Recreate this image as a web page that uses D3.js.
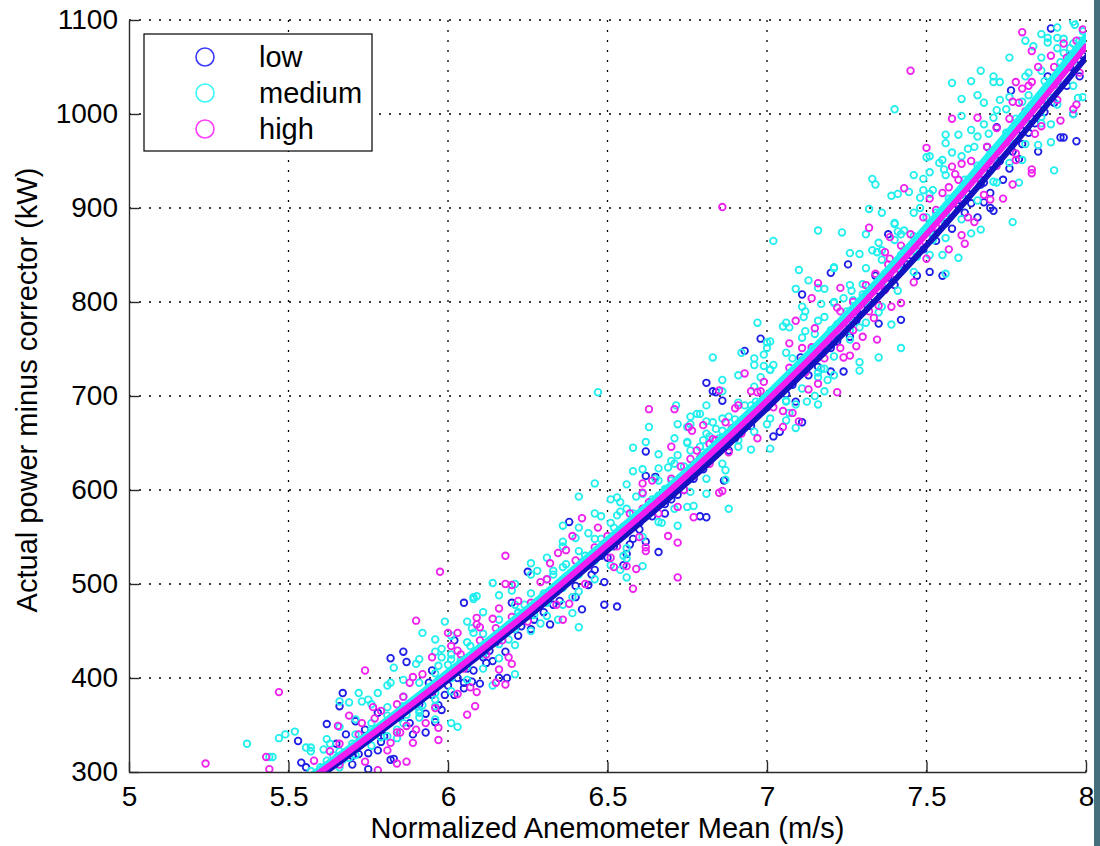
<!DOCTYPE html>
<html>
<head>
<meta charset="utf-8">
<script src="https://cdn.jsdelivr.net/npm/d3@7/dist/d3.min.js"></script>
<style>
	body { margin: 0; background: #fff; }
	text { font-family: "Liberation Sans", Arial, sans-serif; fill: #000; }
</style>
</head>
<body>
<div id="chart-area"></div>
<script>
var seriesNames = ["low", "medium", "high"];
var xTicks = [5, 5.5, 6, 6.5, 7, 7.5, 8];
var yTicks = [300, 400, 500, 600, 700, 800, 900, 1000, 1100];

// fitted curves, read at these wind speeds
var fitSpeeds = [5.55, 5.6, 5.8, 6.0, 6.25, 6.5, 6.75, 7.0, 7.25, 7.5, 7.75, 8.0];
var lowFit = [284, 296, 346, 398, 465, 536, 608, 687, 770, 860, 958, 1060];
var mediumFit = [291, 303, 353, 406, 474, 547, 621, 701, 787, 880, 978, 1082];
var highFit = [288, 300, 350, 402, 470, 542, 616, 695, 780, 872, 969, 1072];

// scatter points [speed, power]
var lowPoints = [[5.53,333],[5.54,310],[5.555,305],[5.62,351],[5.66,370],[5.67,384],[5.68,340],[5.70,317],[5.71,354],[5.72,319],[5.75,320],[5.75,303],[5.78,323],[5.78,363],[5.82,313],[5.83,314],[5.82,421],[5.86,428],[5.87,417],[5.93,362],[5.93,342],[5.95,408],[5.95,382],[5.96,353],[5.97,371],[5.99,382],[6.02,382],[6.02,440],[6.05,480],[6.05,395],[6.05,389],[6.07,423],[6.075,396],[6.10,394],[6.11,422],[6.13,429],[6.16,400],[6.185,400],[6.19,456],[6.2,480],[6.25,513],[6.32,457],[6.38,566],[6.42,523],[6.42,473],[6.44,499],[6.49,502],[6.49,478],[6.53,476],[6.55,520],[6.56,532],[6.62,545],[6.62,641],[6.62,615],[6.65,614],[6.66,534],[6.79,572],[6.81,571],[6.81,714],[6.83,705],[6.84,704],[6.86,695],[6.865,610],[6.93,748],[6.98,761],[7.02,657],[7.04,662],[7.09,694],[7.105,741],[7.11,672],[7.11,808],[7.16,731],[7.2,831],[7.20,751],[7.20,726],[7.24,726],[7.254,840],[7.26,763],[7.34,828],[7.35,777],[7.38,872],[7.42,781],[7.47,828],[7.51,832],[7.55,828],[7.56,884],[7.68,927],[7.70,916],[7.68,906],[7.70,900],[7.71,897],[7.69,965],[7.72,986],[7.765,1025],[7.89,1091],[7.92,975],[7.93,975],[7.97,971],
	[5.64,310],[5.73,333],[5.8,338],[5.88,352],[5.91,372],[6.0,392],[6.08,408],[6.14,418],[6.22,445],[6.26,452],[6.3,470],[6.35,482],[6.4,498],[6.46,515],[6.5,528],[6.58,548],[6.6,558],[6.68,575],[6.7,590],[6.74,600],[6.77,612],[6.88,642],[6.9,655],[6.95,668],[6.97,680],[7.0,688],[7.06,702],[7.08,712],[7.13,722],[7.17,745],[7.22,758],[7.28,780],[7.3,792],[7.32,800],[7.4,818],[7.44,840],[7.49,856],[7.53,865],[7.58,878],[7.62,895],[7.64,905],[7.66,890],[7.74,930],[7.76,942],[7.79,952],[7.8,968],[7.82,980],[7.84,990],[7.85,960],[7.87,1002],[7.9,1012],[7.91,1035],[7.94,1030],[7.95,1050],[7.98,1040],[7.99,1062],[7.96,1000],
	[5.6,296],[5.65,330],[5.7,308],[5.74,345],[5.79,332],[5.85,358],[5.89,340],[5.94,395],[5.98,366],[6.03,400],[6.06,410],[6.12,416],[6.15,438],[6.18,428],[6.23,455],[6.27,462],[6.33,478],[6.36,500],[6.4,486],[6.45,510],[6.48,530],[6.52,540],[6.57,542],[6.6,565],[6.64,572],[6.68,585],[6.72,595],[6.76,618],[6.8,622],[6.83,640],[6.87,655],[6.91,660],[6.95,680],[6.99,690],[7.02,700],[7.05,710],[7.09,725],[7.13,738],[7.17,752],[7.21,760],[7.24,778],[7.28,790],[7.31,800],[7.35,812],[7.38,826],[7.42,840],[7.45,850],[7.48,868],[7.52,872],[7.56,895],[7.6,902],[7.63,915],[7.67,925],[7.7,940],[7.73,950],[7.77,960],[7.8,982],[7.83,995],[7.86,1015],[7.88,1040],[7.92,1045],[7.95,1062],[7.98,1058]];

var mediumPoints = [[5.37,330],[5.44,316],[5.45,316],[5.47,336],[5.49,340],[5.52,343],[5.555,326],[5.57,326],[5.61,324],[5.63,330],[5.65,315],[5.67,313],[5.69,315],[5.72,332],[5.755,336],[5.79,337],[5.84,336],[5.84,345],[5.87,361],[5.91,363],[5.92,371],[5.96,377],[5.96,356],[6.01,352],[6.03,348],[5.66,375],[5.69,374],[5.73,375],[5.72,384],[5.75,377],[5.78,384],[5.81,369],[5.82,395],[5.83,411],[5.90,415],[5.97,413],[6.0,414],[6.01,420],[6.04,419],[5.98,422],[5.98,431],[6.07,434],[6.08,448],[5.96,441],[5.92,448],[5.99,460],[6.075,453],[6.08,484],[6.09,487],[6.14,501],[6.14,392],[6.21,404],[6.19,441],[6.22,469],[6.08,486],[6.2,493],[6.22,470],[6.27,467],[6.29,458],[6.345,462],[6.31,481],[6.35,498],[6.39,486],[6.39,469],[6.41,454],[6.26,522],[6.28,514],[6.33,514],[6.37,521],[6.33,510],[6.36,540],[6.36,562],[6.40,549],[6.41,593],[6.46,607],[6.47,704],[6.44,554],[6.48,548],[6.48,572],[6.53,592],[6.54,587],[6.54,577],[6.53,573],[6.58,575],[6.59,593],[6.55,530],[6.54,515],[6.56,527],[6.56,507],[6.61,519],[6.58,645],[6.58,620],[6.62,651],[6.63,667],[6.65,586],[6.66,594],[6.68,601],[6.65,612],[6.66,623],[6.67,565],[6.69,624],[6.70,631],[6.72,637],[6.72,670],[6.715,690],[6.72,562],[6.75,582],[6.77,583],[6.75,650],[6.76,678],[6.78,681],[6.79,646],[6.81,673],[6.81,596],[6.82,657],[6.84,665],[6.87,611],[6.87,621],[6.88,580],[6.75,667],[6.75,651],[6.79,681],[6.80,653],[6.83,672],[6.86,663],[6.83,741],[6.86,717],[6.88,678],[6.91,653],[6.92,746],[6.93,690],[6.94,671],[6.95,643],[6.965,694],[6.96,733],[6.97,778],[6.98,720],[6.99,732],[6.99,744],[7.0,751],[7.0,757],[7.0,670],[7.01,728],[7.01,644],[7.02,733],[7.02,865],[7.05,774],[7.06,695],[7.06,674],[7.07,773],[7.07,682],[7.09,691],[7.09,666],[7.09,814],[7.10,834],[7.115,784],[7.12,790],[7.12,769],[7.125,694],[7.13,823],[7.15,766],[7.15,700],[7.16,876],[7.16,720],[7.16,691],[7.17,798],[7.17,729],[7.18,814],[7.18,784],[7.18,729],[7.18,705],[7.19,717],[7.21,837],[7.21,799],[7.21,722],[7.22,776],[7.235,874],[7.24,804],[7.26,770],[7.265,812],[7.27,802],[7.29,851],[7.29,773],[7.29,736],[7.29,727],[7.30,819],[7.32,899],[7.33,931],[7.33,855],[7.34,925],[7.345,853],[7.35,863],[7.35,789],[7.35,741],[7.36,845],[7.39,913],[7.39,776],[7.40,883],[7.40,1005],[7.40,884],[7.40,866],[7.42,872],[7.42,751],[7.43,876],[7.43,855],[7.445,917],[7.47,848],[7.48,911],[7.48,900],[7.49,931],[7.49,919],[7.50,954],[7.50,890],[7.51,938],[7.52,919],[7.52,866],[7.54,948],[7.55,951],[7.555,941],[7.55,850],[7.56,969],[7.56,885],[7.56,830],[7.58,1033],[7.58,959],[7.60,978],[7.60,847],[7.61,1016],[7.63,963],[7.64,1035],[7.64,983],[7.64,873],[7.65,965],[7.67,1046],[7.67,877],[7.68,1012],[7.68,989],[7.695,979],[7.71,1034],[7.72,1004],[7.72,927],[7.73,1034],[7.73,1015],[7.75,1005],[7.77,885],[7.79,927],[7.80,1013],[7.80,951],[7.82,1044],[7.835,1072],[7.85,967],[7.86,1046],[7.865,1011],[7.86,997],[7.88,1081],[7.88,1076],[7.89,1017],[7.89,989],[7.89,970],[7.90,940],[7.91,1081],[7.93,1080],[7.93,1065],[7.96,1000],[7.965,1095],[7.975,1017],[7.99,1088],[7.99,1018],
	[5.6,305],[5.64,318],[5.7,330],[5.76,345],[5.86,370],[5.94,390],[6.02,405],[6.06,418],[6.12,432],[6.16,445],[6.2,455],[6.24,478],[6.3,490],[6.38,505],[6.43,530],[6.5,545],[6.52,560],[6.6,575],[6.64,590],[6.7,610],[6.74,625],[6.8,640],[6.85,655],[6.9,675],[6.95,690],[7.03,710],[7.08,740],[7.14,750],[7.2,770],[7.25,790],[7.3,808],[7.37,830],[7.42,850],[7.46,870],[7.53,895],[7.57,910],[7.62,930],[7.66,945],[7.7,960],[7.75,980],[7.78,995],[7.82,1020],[7.87,1035],[7.92,1055],[7.95,1070],[7.98,1078],
	[5.57,322],[5.57,301],[5.62,335],[5.62,312],[5.62,292],[5.66,348],[5.66,322],[5.66,305],[5.71,356],[5.71,340],[5.71,318],[5.76,372],[5.76,352],[5.76,328],[5.81,392],[5.81,360],[5.81,338],[5.86,398],[5.86,380],[5.86,352],[5.91,420],[5.91,395],[5.91,366],[5.91,358],[5.96,428],[5.96,405],[5.96,384],[5.96,370],[6.01,445],[6.01,425],[6.01,400],[6.01,386],[6.06,460],[6.06,438],[6.06,412],[6.06,398],[6.11,470],[6.11,447],[6.11,425],[6.11,410],[6.16,488],[6.16,462],[6.16,436],[6.16,421],[6.21,500],[6.21,478],[6.21,452],[6.21,435],[6.26,510],[6.26,490],[6.26,468],[6.26,450],[6.31,528],[6.31,505],[6.31,480],[6.31,466],[6.36,545],[6.36,518],[6.36,496],[6.36,478],[6.41,560],[6.41,535],[6.41,510],[6.41,492],[6.46,575],[6.46,548],[6.46,525],[6.46,505],[6.51,590],[6.51,565],[6.51,540],[6.51,520],[6.56,606],[6.56,580],[6.56,556],[6.56,538],[6.61,622],[6.61,596],[6.61,570],[6.61,550],[6.66,638],[6.66,610],[6.66,585],[6.66,566],[6.71,655],[6.71,628],[6.71,600],[6.71,580],[6.76,670],[6.76,642],[6.76,615],[6.76,598],[6.81,690],[6.81,660],[6.81,632],[6.81,612],[6.86,705],[6.86,676],[6.86,648],[6.86,628],[6.91,722],[6.91,693],[6.91,662],[6.91,646],[6.96,740],[6.96,710],[6.96,680],[6.96,662],[7.01,758],[7.01,728],[7.01,698],[7.01,676],[7.06,778],[7.06,746],[7.06,712],[7.06,694],[7.11,795],[7.11,762],[7.11,730],[7.11,708],[7.16,815],[7.16,780],[7.16,748],[7.16,725],[7.21,836],[7.21,800],[7.21,764],[7.21,742],[7.26,852],[7.26,818],[7.26,782],[7.26,760],[7.31,872],[7.31,836],[7.31,800],[7.31,778],[7.36,895],[7.36,855],[7.36,818],[7.36,795],[7.41,915],[7.41,875],[7.41,836],[7.41,812],[7.46,935],[7.46,895],[7.46,855],[7.46,832],[7.51,955],[7.51,915],[7.51,874],[7.51,850],[7.56,978],[7.56,935],[7.56,895],[7.56,868],[7.61,998],[7.61,955],[7.61,914],[7.61,888],[7.66,1020],[7.66,976],[7.66,932],[7.66,908],[7.71,1040],[7.71,996],[7.71,952],[7.71,928],[7.76,1060],[7.76,1018],[7.76,972],[7.76,948],[7.81,1078],[7.81,1040],[7.81,994],[7.81,968],[7.86,1085],[7.86,1060],[7.86,1015],[7.86,990],[7.91,1092],[7.91,1070],[7.91,1036],[7.91,1010],[7.96,1098],[7.96,1075],[7.96,1056],[7.96,1030]];

var highPoints = [[5.24,309],[5.43,316],[5.44,303],[5.47,385],[5.63,322],[5.655,349],[5.66,308],[5.69,360],[5.73,352],[5.74,311],[5.74,408],[5.765,369],[5.77,357],[5.78,302],[5.81,323],[5.82,331],[5.84,342],[5.85,342],[5.84,372],[5.84,309],[5.87,349],[5.87,311],[5.88,395],[5.89,401],[5.89,331],[5.90,345],[5.90,461],[5.92,404],[5.93,352],[5.95,422],[5.96,368],[5.97,397],[5.97,347],[5.97,334],[5.975,513],[6.0,448],[6.01,434],[6.03,448],[6.03,429],[6.03,383],[6.06,361],[6.07,390],[6.085,370],[6.09,464],[6.09,457],[6.09,385],[6.10,454],[6.10,432],[6.14,463],[6.15,453],[6.15,395],[6.16,474],[6.16,409],[6.18,393],[6.18,500],[6.18,530],[6.19,422],[6.2,465],[6.2,415],[6.2,499],[6.29,502],[6.32,522],[6.32,490],[6.345,533],[6.36,462],[6.37,536],[6.38,479],[6.39,551],[6.42,570],[6.46,539],[6.49,543],[6.5,551],[6.52,518],[6.55,561],[6.56,519],[6.58,495],[6.59,516],[6.61,580],[6.61,597],[6.61,607],[6.62,539],[6.62,535],[6.63,686],[6.63,587],[6.645,587],[6.69,551],[6.70,612],[6.70,646],[6.71,686],[6.72,582],[6.72,544],[6.72,507],[6.755,667],[6.765,663],[6.76,633],[6.77,571],[6.78,642],[6.79,634],[6.80,669],[6.82,649],[6.83,654],[6.84,653],[6.85,706],[6.85,597],[6.86,599],[6.86,901],[6.89,666],[6.90,687],[6.93,724],[6.95,705],[6.97,704],[6.98,705],[6.97,655],[7.05,667],[7.05,684],[7.07,756],[7.08,682],[7.09,780],[7.10,673],[7.11,751],[7.13,707],[7.14,752],[7.14,804],[7.16,820],[7.16,713],[7.22,704],[7.22,794],[7.23,815],[7.23,751],[7.24,741],[7.26,743],[7.28,753],[7.30,763],[7.32,879],[7.33,814],[7.335,783],[7.345,760],[7.35,796],[7.37,853],[7.37,813],[7.385,869],[7.385,846],[7.39,795],[7.42,799],[7.43,921],[7.45,1046],[7.46,821],[7.50,964],[7.50,846],[7.51,910],[7.55,916],[7.57,856],[7.58,995],[7.58,944],[7.59,936],[7.61,947],[7.61,871],[7.62,862],[7.63,890],[7.65,885],[7.66,996],[7.68,914],[7.70,909],[7.74,910],[7.77,1013],[7.77,925],[7.78,1034],[7.78,958],[7.78,951],[7.80,1087],[7.80,1027],[7.81,1003],[7.83,1067],[7.83,1034],[7.83,941],[7.83,937],[7.84,979],[7.86,987],[7.90,1050],[7.90,1031],[7.91,1040],[7.91,1015],[7.92,993],[7.96,1005],[7.97,1010],[7.98,1044],
	[5.62,305],[5.7,325],[5.8,350],[5.95,385],[6.05,410],[6.12,425],[6.25,460],[6.28,475],[6.35,495],[6.44,520],[6.53,540],[6.66,575],[6.74,600],[6.88,640],[6.92,660],[7.0,690],[7.03,700],[7.12,725],[7.18,740],[7.27,770],[7.32,790],[7.4,830],[7.48,860],[7.53,880],[7.6,905],[7.67,930],[7.72,945],[7.75,970],[7.86,1010],[7.88,1025],[7.94,1060],[7.99,1070],
	[5.58,312],[5.66,330],[5.72,340],[5.79,365],[5.86,380],[5.92,382],[5.99,400],[6.04,425],[6.1,440],[6.17,440],[6.22,482],[6.26,480],[6.31,505],[6.34,478],[6.4,525],[6.43,500],[6.47,560],[6.51,528],[6.57,575],[6.6,550],[6.64,610],[6.68,590],[6.73,625],[6.77,615],[6.82,628],[6.87,672],[6.91,690],[6.94,670],[6.99,715],[7.02,688],[7.07,730],[7.11,738],[7.15,772],[7.19,760],[7.23,790],[7.27,800],[7.31,818],[7.34,830],[7.38,840],[7.42,860],[7.45,872],[7.49,890],[7.53,898],[7.57,922],[7.6,930],[7.64,950],[7.69,965],[7.72,985],[7.76,995],[7.79,1012],[7.82,1030],[7.85,1050],[7.89,1062],[7.93,1075],[7.97,1078],[7.99,1090]];

var pointColors = ["#1e1ee6", "#22eeee", "#ee22ee"];
var lineColors = ["#1212c0", "#1ff0f0", "#f01cf0"];
var legendColors = ["#3a3aff", "#3cf8f8", "#ff3cff"];

var margin = {top: 20, right: 14, bottom: 74, left: 129};
var width = 1100 - margin.left - margin.right;
var height = 846 - margin.top - margin.bottom;

var svg = d3.select("#chart-area")
.append("svg")
	.attr("width", 1100)
	.attr("height", 846);

svg.append("rect")
	.attr("width", 1100)
	.attr("height", 846)
	.attr("fill", "#fff");

// window frame strip on the right
svg.append("rect")
	.attr("x", 1094)
	.attr("width", 6)
	.attr("height", 846)
	.attr("fill", "#44707c");

var g = svg.append("g")
	.attr("transform", "translate(" + margin.left + ", " + margin.top + ")");

var x = d3.scaleLinear().domain([5, 8]).range([0, width]);
var y = d3.scaleLinear().domain([300, 1100]).range([height, 0]);

g.append("clipPath")
	.attr("id", "plot-clip")
.append("rect")
	.attr("width", width)
	.attr("height", height);

// dotted grid
g.selectAll(".vgrid")
	.data(xTicks.slice(1))
	.enter().append("line")
	.attr("class", "vgrid")
	.attr("x1", d => x(d)).attr("x2", d => x(d))
	.attr("y1", 0).attr("y2", height)
	.attr("stroke", "#000")
	.attr("stroke-width", 1.3)
	.attr("stroke-dasharray", "2,8");

g.selectAll(".hgrid")
	.data(yTicks.slice(1))
	.enter().append("line")
	.attr("class", "hgrid")
	.attr("x1", 0).attr("x2", width)
	.attr("y1", d => y(d)).attr("y2", d => y(d))
	.attr("stroke", "#000")
	.attr("stroke-width", 1.3)
	.attr("stroke-dasharray", "2,8");

var plot = g.append("g").attr("clip-path", "url(#plot-clip)");

var allPoints = [lowPoints, mediumPoints, highPoints];
var allFits = [lowFit, mediumFit, highFit];

allPoints.forEach((pts, i) => {
	plot.selectAll(".pt" + i)
		.data(pts)
		.enter().append("circle")
		.attr("class", "pt" + i)
		.attr("cx", d => x(d[0]))
		.attr("cy", d => y(d[1]))
		.attr("r", 3.3)
		.attr("fill", "none")
		.attr("stroke", pointColors[i])
		.attr("stroke-width", 1.8);
});

var fitLine = d3.line()
	.x((d, i) => x(fitSpeeds[i]))
	.y(d => y(d))
	.curve(d3.curveMonotoneX);

allFits.forEach((fit, i) => {
	plot.append("path")
		.datum(fit)
		.attr("d", fitLine)
		.attr("fill", "none")
		.attr("stroke", lineColors[i])
		.attr("stroke-width", i == 1 ? 7 : 6)
		.attr("stroke-linecap", "round");
});

// axes
var xAxisCall = d3.axisBottom(x)
	.tickValues(xTicks)
	.tickFormat(d3.format("~g"))
	.tickSizeInner(-10)
	.tickSizeOuter(0)
	.tickPadding(14);

var yAxisCall = d3.axisLeft(y)
	.tickValues(yTicks)
	.tickFormat(d3.format("d"))
	.tickSizeInner(-10)
	.tickSizeOuter(0)
	.tickPadding(11);

var xAxisGroup = g.append("g")
	.attr("transform", "translate(0, " + height + ")")
	.call(xAxisCall);

var yAxisGroup = g.append("g")
	.call(yAxisCall);

[xAxisGroup, yAxisGroup].forEach(ax => {
	ax.select(".domain").attr("stroke", "#2a2a2a").attr("stroke-width", 1.4);
	ax.selectAll(".tick line").attr("stroke", "#2a2a2a").attr("stroke-width", 1.4);
	ax.selectAll("text")
		.attr("font-size", "28px")
		.style("font-family", "'Liberation Sans', Arial, sans-serif")
		.attr("fill", "#000");
});

g.append("text")
	.attr("x", (x(5) + x(8)) / 2)
	.attr("y", height + 66)
	.attr("font-size", "29px")
	.attr("text-anchor", "middle")
	.text("Normalized Anemometer Mean (m/s)");

g.append("text")
	.attr("x", -(height / 2) + 6)
	.attr("y", -92)
	.attr("font-size", "29px")
	.attr("text-anchor", "middle")
	.attr("transform", "rotate(-90)")
	.text("Actual power minus corrector (kW)");

// legend
var legend = g.append("g")
	.attr("transform", "translate(15, 14)");

legend.append("rect")
	.attr("width", 228)
	.attr("height", 117)
	.attr("fill", "#fff")
	.attr("stroke", "#000")
	.attr("stroke-width", 1.2);

seriesNames.forEach((name, i) => {
	var row = legend.append("g")
		.attr("transform", "translate(0, " + (23 + i * 36) + ")");
	row.append("circle")
		.attr("cx", 61)
		.attr("r", 9)
		.attr("fill", "none")
		.attr("stroke", legendColors[i])
		.attr("stroke-width", 1.6);
	row.append("text")
		.attr("x", 115)
		.attr("dy", "0.35em")
		.attr("font-size", "29px")
		.text(name);
});
</script>
</body>
</html>
